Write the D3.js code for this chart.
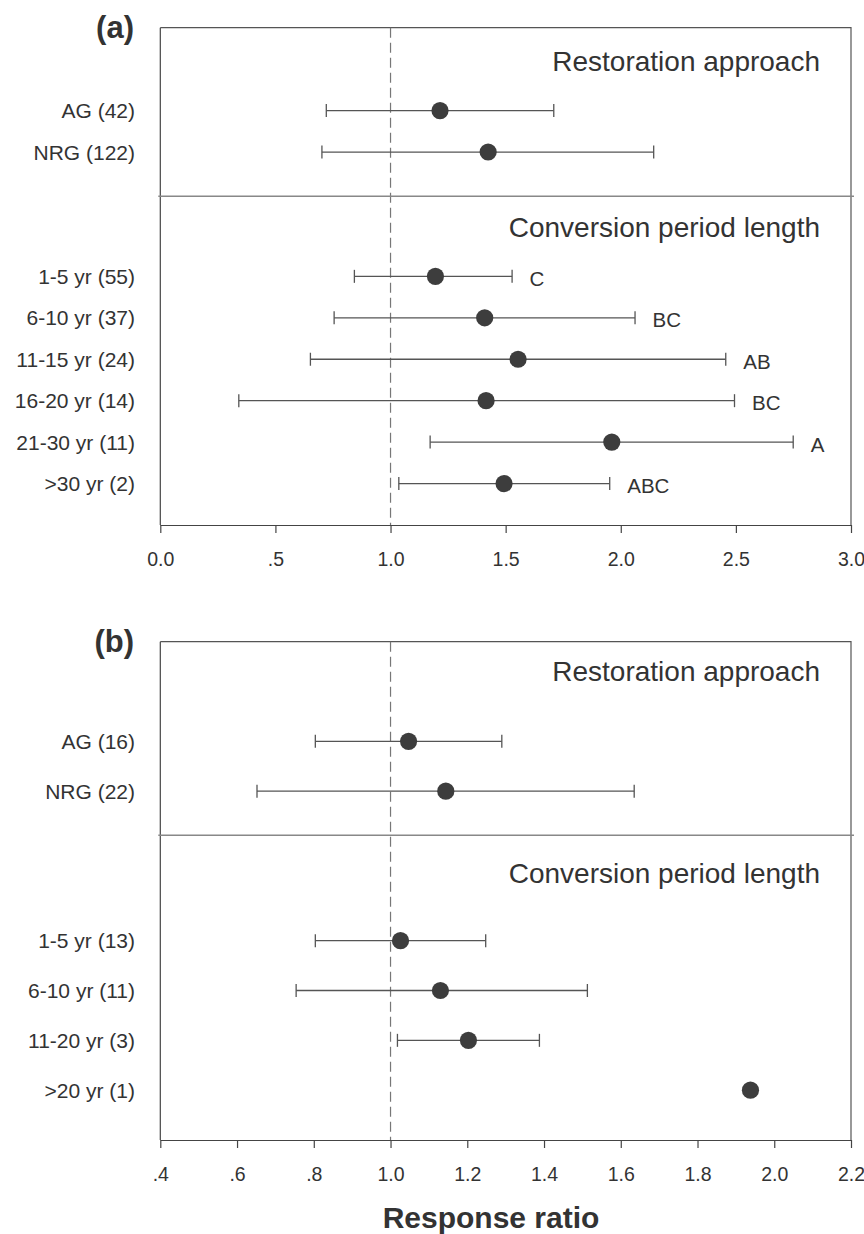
<!DOCTYPE html>
<html>
<head>
<meta charset="utf-8">
<script src="https://cdn.jsdelivr.net/npm/d3@7"></script>
<style>
  html, body { margin: 0; padding: 0; background: #fff; }
  svg { display: block; }
  text { font-family: "Liberation Sans", Arial, Helvetica, sans-serif; fill: #333; }
</style>
</head>
<body>
<svg id="chart" width="864" height="1234"></svg>
<script>
// ---------- Panel (a) data ----------
const aRestLabels = ["AG (42)", "NRG (122)"];
const aRestMean   = [1.215, 1.424];
const aRestLow    = [0.721, 0.702];
const aRestHigh   = [1.709, 2.143];

const aConvLabels  = ["1-5 yr (55)", "6-10 yr (37)", "11-15 yr (24)", "16-20 yr (14)", "21-30 yr (11)", ">30 yr (2)"];
const aConvMean    = [1.195, 1.409, 1.554, 1.415, 1.961, 1.493];
const aConvLow     = [0.843, 0.755, 0.652, 0.341, 1.172, 1.036];
const aConvHigh    = [1.528, 2.062, 2.456, 2.494, 2.749, 1.952];
const aConvLetters = ["C", "BC", "AB", "BC", "A", "ABC"];

const aTicks      = [0, 0.5, 1.0, 1.5, 2.0, 2.5, 3.0];
const aTickLabels = ["0.0", ".5", "1.0", "1.5", "2.0", "2.5", "3.0"];

// ---------- Panel (b) data ----------
const bRestLabels = ["AG (16)", "NRG (22)"];
const bRestMean   = [1.047, 1.144];
const bRestLow    = [0.804, 0.652];
const bRestHigh   = [1.290, 1.635];

const bConvLabels  = ["1-5 yr (13)", "6-10 yr (11)", "11-20 yr (3)", ">20 yr (1)"];
const bConvMean    = [1.026, 1.130, 1.203, 1.938];
const bConvLow     = [0.804, 0.754, 1.018, null];
const bConvHigh    = [1.248, 1.513, 1.388, null];
const bConvLetters = ["", "", "", ""];

const bTicks      = [0.4, 0.6, 0.8, 1.0, 1.2, 1.4, 1.6, 1.8, 2.0, 2.2];
const bTickLabels = [".4", ".6", ".8", "1.0", "1.2", "1.4", "1.6", "1.8", "2.0", "2.2"];

const headerRest = "Restoration approach";
const headerConv = "Conversion period length";
const xTitle = "Response ratio";

// ---------- Layout (styles / positions) ----------
const svg = d3.select("#chart");
svg.append("rect").attr("width", 864).attr("height", 1234).attr("fill", "#fff");

const X0 = 160.3, X1 = 851;

function buildRows(restLabels, restMean, restLow, restHigh, convLabels, convMean, convLow, convHigh, convLetters) {
  const rows = [];
  restLabels.forEach((l, i) => rows.push({label: l, idx: i, mean: restMean[i], low: restLow[i], high: restHigh[i], letter: ""}));
  convLabels.forEach((l, i) => rows.push({label: l, idx: 4 + i, mean: convMean[i], low: convLow[i], high: convHigh[i], letter: convLetters[i]}));
  return rows;
}

function drawPanel(cfg) {
  const g = svg.append("g");
  const x = d3.scaleLinear().domain(cfg.xDomain).range([X0, X1]);
  const y = d3.scaleLinear().domain(cfg.yDomain).range([cfg.top, cfg.bottom]);

  // frame: top & right
  g.append("path")
    .attr("d", `M${X0},${cfg.top}H${X1}V${cfg.bottom}`)
    .attr("fill", "none").attr("stroke", "#555").attr("stroke-width", 1.2);
  // left axis line
  g.append("line")
    .attr("x1", X0).attr("x2", X0).attr("y1", cfg.top).attr("y2", cfg.bottom)
    .attr("stroke", "#444").attr("stroke-width", 1.2);

  // dashed reference line at 1.0
  g.append("line")
    .attr("x1", x(1)).attr("x2", x(1)).attr("y1", cfg.top).attr("y2", cfg.bottom)
    .attr("stroke", "#777").attr("stroke-width", 1.2).attr("stroke-dasharray", "10,5");

  // divider
  g.append("line")
    .attr("x1", X0 - 2).attr("x2", X1 + 3)
    .attr("y1", y(cfg.dividerIdx)).attr("y2", y(cfg.dividerIdx))
    .attr("stroke", "#888").attr("stroke-width", 1.5);

  // x axis
  const axis = d3.axisBottom(x)
    .tickValues(cfg.ticks)
    .tickFormat((d, i) => cfg.tickLabels[i])
    .tickSize(8).tickSizeOuter(0).tickPadding(19.5);
  const ag = g.append("g").attr("transform", `translate(0,${cfg.bottom})`).call(axis);
  ag.select(".domain").attr("stroke", "#444").attr("stroke-width", 1.2);
  ag.selectAll(".tick line").attr("stroke", "#444").attr("stroke-width", 1.2);
  ag.selectAll(".tick text").attr("fill", "#333").style("font-size", "19.5px")
    .style("font-family", '"Liberation Sans", Arial, Helvetica, sans-serif');

  // headers
  g.append("text").attr("x", 820).attr("y", cfg.restHeaderY).attr("text-anchor", "end")
    .style("font-size", "28px").text(headerRest);
  g.append("text").attr("x", 820).attr("y", cfg.convHeaderY).attr("text-anchor", "end")
    .style("font-size", "28px").text(headerConv);

  // panel label
  g.append("text").attr("x", 134).attr("y", cfg.top + 10).attr("text-anchor", "end")
    .style("font-size", "31px").style("font-weight", "bold").text(cfg.panelLabel);

  const rows = cfg.rows;
  // category labels
  g.selectAll(".cat").data(rows).enter().append("text")
    .attr("x", 135).attr("y", d => y(d.idx) + 7.5).attr("text-anchor", "end")
    .style("font-size", "21px").text(d => d.label);

  // error bars
  const eb = rows.filter(d => d.low != null && d.high != null);
  g.selectAll(".eb").data(eb).enter().append("line")
    .attr("x1", d => x(d.low)).attr("x2", d => x(d.high))
    .attr("y1", d => y(d.idx)).attr("y2", d => y(d.idx))
    .attr("stroke", "#555").attr("stroke-width", 1.3);
  g.selectAll(".capL").data(eb).enter().append("line")
    .attr("x1", d => x(d.low)).attr("x2", d => x(d.low))
    .attr("y1", d => y(d.idx) - 6.5).attr("y2", d => y(d.idx) + 6.5)
    .attr("stroke", "#555").attr("stroke-width", 1.3);
  g.selectAll(".capR").data(eb).enter().append("line")
    .attr("x1", d => x(d.high)).attr("x2", d => x(d.high))
    .attr("y1", d => y(d.idx) - 6.5).attr("y2", d => y(d.idx) + 6.5)
    .attr("stroke", "#555").attr("stroke-width", 1.3);

  // points
  g.selectAll(".pt").data(rows).enter().append("circle")
    .attr("cx", d => x(d.mean)).attr("cy", d => y(d.idx)).attr("r", 8.6)
    .attr("fill", "#3d3d3d");

  // letters
  g.selectAll(".let").data(rows.filter(d => d.letter)).enter().append("text")
    .attr("x", d => x(d.high) + 17.5).attr("y", d => y(d.idx) + 9.5)
    .style("font-size", "20.5px").text(d => d.letter);
}

drawPanel({
  panelLabel: "(a)",
  xDomain: [0, 3], ticks: aTicks, tickLabels: aTickLabels,
  top: 27.7, bottom: 525, yDomain: [-2, 10], dividerIdx: 2.07,
  restHeaderY: 70.7, convHeaderY: 237.3,
  rows: buildRows(aRestLabels, aRestMean, aRestLow, aRestHigh, aConvLabels, aConvMean, aConvLow, aConvHigh, aConvLetters)
});

drawPanel({
  panelLabel: "(b)",
  xDomain: [0.4, 2.2], ticks: bTicks, tickLabels: bTickLabels,
  top: 641.7, bottom: 1140, yDomain: [-2, 8], dividerIdx: 1.886,
  restHeaderY: 681, convHeaderY: 883.3,
  rows: buildRows(bRestLabels, bRestMean, bRestLow, bRestHigh, bConvLabels, bConvMean, bConvLow, bConvHigh, bConvLetters)
});

// x-axis title
svg.append("text").attr("x", 491).attr("y", 1228).attr("text-anchor", "middle")
  .style("font-size", "30px").style("font-weight", "bold").text(xTitle);
</script>
</body>
</html>
